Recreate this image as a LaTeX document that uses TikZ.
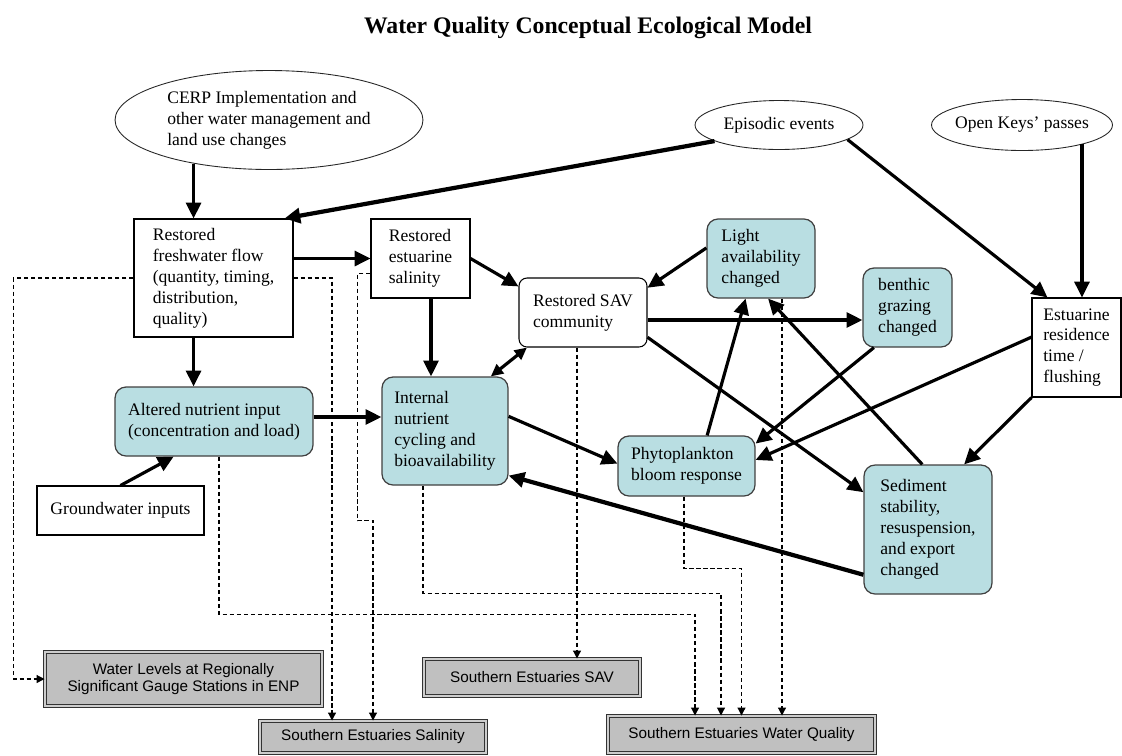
\documentclass[tikz,border=0pt]{standalone}
\usepackage{fontspec}
\setmainfont{Liberation Serif}
\newfontfamily\arialfont{Liberation Sans}
\usepackage{tikz}
\usetikzlibrary{shapes,arrows.meta,calc}
\definecolor{algae}{RGB}{185,222,226}
\definecolor{gaugegray}{RGB}{192,192,192}

\begin{document}
\begin{tikzpicture}[
        x=0.02cm, y=-0.02cm,
        every node/.style={font=\fontsize{10}{11.9}\selectfont, inner sep=0pt},
        driver/.style={ellipse, draw=black!85, line width=0.5pt, fill=white, align=left},
        plainbox/.style={rectangle, draw=black, line width=0.6pt, fill=white, align=left},
        savbox/.style={plainbox, rounded corners=0.16cm},
        algaebox/.style={rectangle, draw=black!75, line width=0.7pt, fill=algae, align=left, rounded corners=0.22cm},
        gauge/.style={rectangle, draw=black!80, line width=0.55pt, double=gaugegray!80, double distance=0.9pt, fill=gaugegray, align=center, font=\arialfont\fontsize{8.7}{10.2}\selectfont},
        flow/.style={-{Triangle[length=9pt,width=8.5pt]}, line width=1.8pt},
        heavyflow/.style={flow, line width=2.4pt},
        twoway/.style={{Triangle[length=7pt,width=6.5pt]}-{Triangle[length=7pt,width=6.5pt]}, line width=1.8pt},
        link/.style={-{Triangle[length=4.5pt,width=4.5pt]}, line width=0.6pt, dash pattern=on 2.4pt off 1.6pt}
        ]
        \useasboundingbox (0,0) rectangle (1122,755);

        \node[anchor=base, font=\fontsize{13.5}{16}\selectfont\bfseries] (title) at (588,33) {Water Quality Conceptual Ecological Model};

        % Drivers
        \node[driver, minimum width=6.16cm, minimum height=1.98cm] (cerp) at (269,120) {CERP Implementation and\\other water management and\\land use changes};
        \node[driver, minimum width=3.36cm, minimum height=0.98cm] (episodic) at (779,125) {Episodic events};
        \node[driver, minimum width=3.62cm, minimum height=1.02cm, inner xsep=-0.1cm] (openkeys) at (1022,125) {Open Keys’ passes};

        % Ecosystem components
        \node[plainbox, minimum width=3.18cm, minimum height=2.36cm] (fresh) at (213.5,278) {Restored\\freshwater flow\\(quantity, timing,\\distribution,\\quality)};
        \node[plainbox, minimum width=1.98cm, minimum height=1.58cm] (salin) at (420.5,258.5) {Restored\\estuarine\\salinity};
        \node[savbox, minimum width=2.56cm, minimum height=1.38cm] (sav) at (583,312.5) {Restored SAV\\community};
        \node[algaebox, minimum width=2.16cm, minimum height=1.58cm] (light) at (761,258.5) {Light\\availability\\changed};
        \node[algaebox, minimum width=1.78cm, minimum height=1.58cm] (benthic) at (907.5,307.5) {benthic\\grazing\\changed};
        \node[plainbox, minimum width=1.78cm, minimum height=1.98cm] (resid) at (1076.5,347.5) {Estuarine\\residence\\time /\\flushing};
        \node[algaebox, minimum width=3.96cm, minimum height=1.38cm] (altered) at (214,421.5) {Altered nutrient input\\(concentration and load)};
        \node[algaebox, minimum width=2.52cm, minimum height=2.16cm] (internal) at (445,431) {Internal\\nutrient\\cycling and\\bioavailability};
        \node[algaebox, minimum width=2.74cm, minimum height=1.2cm] (phyto) at (686.5,466) {Phytoplankton\\bloom response};
        \node[algaebox, minimum width=2.56cm, minimum height=2.58cm] (sedim) at (928,529.5) {Sediment\\stability,\\resuspension,\\and export\\changed};
        \node[plainbox, minimum width=3.34cm, minimum height=0.98cm] (ground) at (120.5,510.5) {Groundwater inputs};

        % Performance measures
        \node[gauge, minimum width=5.54cm, minimum height=1.08cm] (wlevels) at (183.5,679) {Water Levels at Regionally\\Significant Gauge Stations in ENP};
        \node[gauge, minimum width=4.52cm, minimum height=0.64cm] (ssal) at (373,737) {Southern Estuaries Salinity};
        \node[gauge, minimum width=4.32cm, minimum height=0.74cm] (ssav) at (532,677.5) {Southern Estuaries SAV};
        \node[gauge, minimum width=5.34cm, minimum height=0.74cm] (swq) at (741.5,734.5) {Southern Estuaries Water Quality};

        % Drivers into the system
        \draw[flow] (cerp.210) -- (cerp.210 |- fresh.north);
        \draw[heavyflow] (episodic.194) -- (fresh.40);
        \draw[flow] (episodic.-12) -- ([xshift=0.32cm]resid.north west);
        \draw[flow] (openkeys.-18) -- (openkeys.-18 |- resid.north);

        % Freshwater and nutrient pathway
        \coordinate (salinfoot) at ([xshift=0.21cm]salin.south);
        \coordinate (alteredout) at ([yshift=0.09cm]altered.east);
        \draw[flow] (fresh.south -| cerp.210) -- (altered.north -| cerp.210);
        \draw[flow] (fresh.east |- salin.west) -- (salin.west);
        \draw[flow] (salin.east) -- (sav.158);
        \draw[flow] (salinfoot) -- (salinfoot |- internal.north);
        \draw[flow] (alteredout) -- (alteredout -| internal.west);
        \draw[flow] (ground.north) -- (altered.221);

        % SAV links
        \coordinate (savout) at ([yshift=-0.15cm]sav.east);
        \draw[flow] (light.169) -- (sav.21);
        \draw[flow] (savout) -- (savout -| benthic.west);
        \draw[flow] (sav.-21) -- (sedim.150);
        \draw[twoway] (sav.212) -- (internal.50);

        % Algal bloom and sediment loop
        \draw[flow] (internal.13) -- (phyto.178);
        \draw[flow] (phyto.56) -- (light.249);
        \draw[flow] (sedim.95) -- (light.280);
        \draw[flow] (benthic.230) -- (phyto.18);
        \draw[flow] (resid.167) -- (phyto.5);
        \draw[flow] (resid.south west) -- (sedim.61);
        \draw[heavyflow] (sedim.215) -- (internal.-35);

        % Links to performance measures (dashed)
        \coordinate (savdrop) at ([xshift=-0.12cm]sav.south);
        \coordinate (lightdrop) at ([xshift=0.42cm]light.south);
        \draw[link] (fresh.west) -- ++(-120,0) |- (wlevels.west);
        \draw[link] (fresh.east) -| ([xshift=-0.82cm]ssal.north);
        \draw[link] ([yshift=-0.3cm]salin.west) -- ++(-13,0) |- ([yshift=4cm]ssal.north) -- (ssal.north);
        \draw[link] ([xshift=0.1cm]altered.south) |- ([xshift=-0.93cm,yshift=2.02cm]swq.north) -- ([xshift=-0.93cm]swq.north);
        \draw[link] ([xshift=-0.44cm]internal.south) |- ([xshift=-0.41cm,yshift=2.44cm]swq.north) -- ([xshift=-0.41cm]swq.north);
        \draw[link] (savdrop) -- (savdrop |- ssav.north);
        \draw[link] ([xshift=-0.05cm]phyto.south) |- ([yshift=2.94cm]swq.north) -- (swq.north);
        \draw[link] (lightdrop) -- (lightdrop |- swq.north);

    \end{tikzpicture}
\end{document}
